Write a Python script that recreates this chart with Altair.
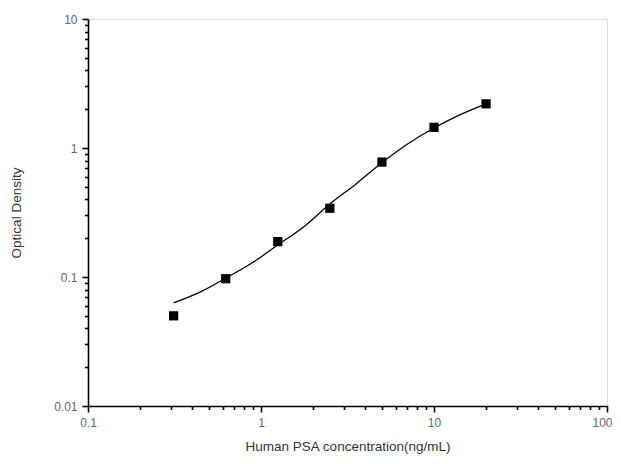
import altair as alt
import pandas as pd

# Measured standards
conc = [0.3125, 0.625, 1.25, 2.5, 5, 10, 20]
od = [0.050, 0.097, 0.188, 0.341, 0.778, 1.446, 2.20]

# Fitted curve
curve_x = [0.3125, 0.45, 0.625, 0.9, 1.25, 1.8, 2.5, 3.5, 5, 7, 10, 14, 20]
curve_y = [0.063, 0.077, 0.098, 0.130, 0.177, 0.250, 0.368, 0.520, 0.77, 1.07, 1.43, 1.80, 2.20]

x_major = [0.1, 1, 10, 100]
y_major = [0.01, 0.1, 1, 10]

def with_minors(majors):
    vals = []
    for m in majors[:-1]:
        for k in range(1, 10):
            vals.append(round(m * k, 6))
    vals.append(majors[-1])
    return vals

x_ticks = with_minors(x_major)
y_ticks = with_minors(y_major)

pts = pd.DataFrame({"x": conc, "y": od})
crv = pd.DataFrame({"x": curve_x, "y": curve_y})

FONT = "Liberation Sans"

def lbl(majors):
    return "indexof(" + str(majors) + ", datum.value) >= 0 ? '' + datum.value : ''"

def tsize(majors):
    return {"condition": {"test": "indexof(" + str(majors) + ", datum.value) >= 0", "value": 6}, "value": 3.5}

xscale = alt.Scale(type="log", domain=[0.1, 100], nice=False)
yscale = alt.Scale(type="log", domain=[0.01, 10], nice=False)

xaxis = alt.Axis(values=x_ticks, labelExpr=lbl(x_major), tickSize=tsize(x_major),
                 grid=False, title="Human PSA concentration(ng/mL)",
                 labelFont=FONT, labelFontSize=12, labelColor="#666666",
                 labelAlign={"condition": {"test": "datum.value == 100", "value": "right"}, "value": "center"},
                 labelOffset={"condition": {"test": "datum.value == 100", "value": 5}, "value": 0},
                 titleFont=FONT, titleFontSize=13.5, titleFontWeight="normal", titleColor="#333333",
                 domainColor="black", domainWidth=1.6, tickColor="black", tickWidth=1.6,
                 labelPadding=5, titlePadding=11, labelFlush=False, labelOverlap=False)
yaxis = alt.Axis(values=y_ticks, labelExpr=lbl(y_major), tickSize=tsize(y_major),
                 grid=False, title="Optical Density",
                 labelFont=FONT, labelFontSize=12, labelColor="#666666",
                 titleFont=FONT, titleFontSize=13.5, titleFontWeight="normal", titleColor="#333333",
                 domainColor="black", domainWidth=1.6, tickColor="black", tickWidth=1.6,
                 labelPadding=5, titlePadding=30, labelFlush=False, labelOverlap=False)

line = alt.Chart(crv).mark_line(color="black", strokeWidth=1.3, interpolate="monotone").encode(
    x=alt.X("x:Q", scale=xscale, axis=xaxis),
    y=alt.Y("y:Q", scale=yscale, axis=yaxis),
)
points = alt.Chart(pts).mark_point(shape="square", filled=True, color="black", opacity=1, size=85).encode(
    x=alt.X("x:Q", scale=xscale),
    y=alt.Y("y:Q", scale=yscale),
)

chart = alt.layer(line, points).properties(
    width=519, height=387,
    autosize=alt.AutoSizeParams(type="none"),
    padding={"left": 80, "top": 11, "right": 6, "bottom": 48},
).configure_view(stroke=None).configure(background="white")

chart.save("out.html", embed_options={"renderer": "svg", "actions": False})
